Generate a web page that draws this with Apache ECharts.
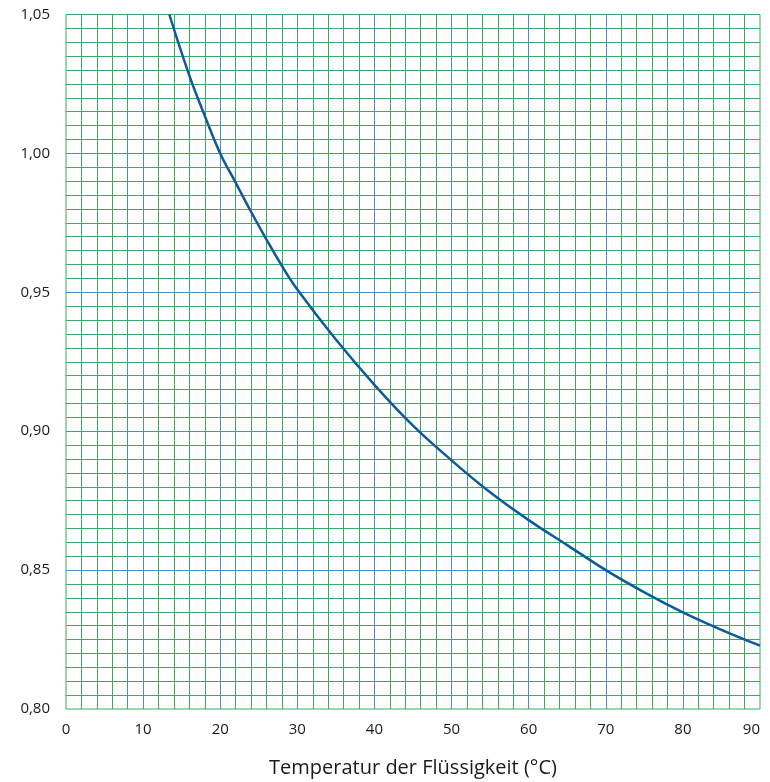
<!DOCTYPE html>
<html>
<head>
<meta charset="utf-8">
<script src="https://cdn.jsdelivr.net/npm/echarts@6/dist/echarts.min.js"></script>
<style>
  html, body { margin: 0; padding: 0; background: #ffffff; }
  #chart { width: 770px; height: 782px; }
</style>
</head>
<body>
<div id="chart"></div>
<script>
// Temperatur (°C) und Korrekturfaktor
const temperatur = [13.4, 16, 18, 20, 22, 24, 26, 28, 30, 35, 40, 45, 50, 55, 60, 65, 70, 75, 80, 85, 90]
const faktor = [1.050, 1.028, 1.0135, 1.000, 0.9895, 0.979, 0.969, 0.9595, 0.951, 0.933, 0.9167, 0.902,
  0.8895, 0.878, 0.868, 0.859, 0.850, 0.842, 0.8348, 0.8285, 0.8228]
const xTitel = 'Temperatur der Flüssigkeit (°C)'

const gruen = '#36ab65'
const blau = '#4a8ccf'
const schrift = '"Open Sans", "DejaVu Sans", sans-serif'

const chart = echarts.init(document.getElementById('chart'))
chart.setOption({
  backgroundColor: '#ffffff',
  animation: false,
  grid: {
    left: 66,
    top: 14.5,
    right: 10,
    bottom: 73,
    outerBoundsMode: 'none',
    containLabel: false,
    show: true,
    borderColor: gruen,
    borderWidth: 1
  },
  xAxis: {
    type: 'value',
    min: 0,
    max: 90,
    interval: 10,
    name: xTitel,
    nameLocation: 'middle',
    nameGap: 49,
    nameTextStyle: { fontFamily: schrift, fontSize: 20, color: '#1a1a1a' },
    axisLine: { show: false },
    axisTick: { show: false },
    axisLabel: {
      margin: 13,
      fontFamily: schrift,
      fontSize: 15,
      color: '#1a1a1a',
      alignMaxLabel: 'right'
    },
    splitLine: {
      show: true,
      showMinLine: false,
      showMaxLine: false,
      lineStyle: { color: blau, width: 1 }
    },
    minorTick: { show: false, splitNumber: 5 },
    minorSplitLine: { show: true, lineStyle: { color: gruen, width: 1 } }
  },
  yAxis: {
    type: 'value',
    min: 0.8,
    max: 1.05,
    interval: 0.05,
    axisLine: { show: false },
    axisTick: { show: false },
    axisLabel: {
      margin: 16,
      fontFamily: schrift,
      fontSize: 15,
      color: '#1a1a1a',
      formatter: v => v.toFixed(2).replace('.', ',')
    },
    splitLine: {
      show: true,
      showMinLine: false,
      showMaxLine: false,
      lineStyle: { color: blau, width: 1 }
    },
    minorTick: { show: false, splitNumber: 10 },
    minorSplitLine: { show: true, lineStyle: { color: gruen, width: 1 } }
  },
  series: [{
    type: 'line',
    smooth: 0.4,
    showSymbol: false,
    clip: true,
    lineStyle: { color: '#0d5a96', width: 2.5 },
    data: temperatur.map((t, i) => [t, faktor[i]])
  }]
})
</script>
</body>
</html>
